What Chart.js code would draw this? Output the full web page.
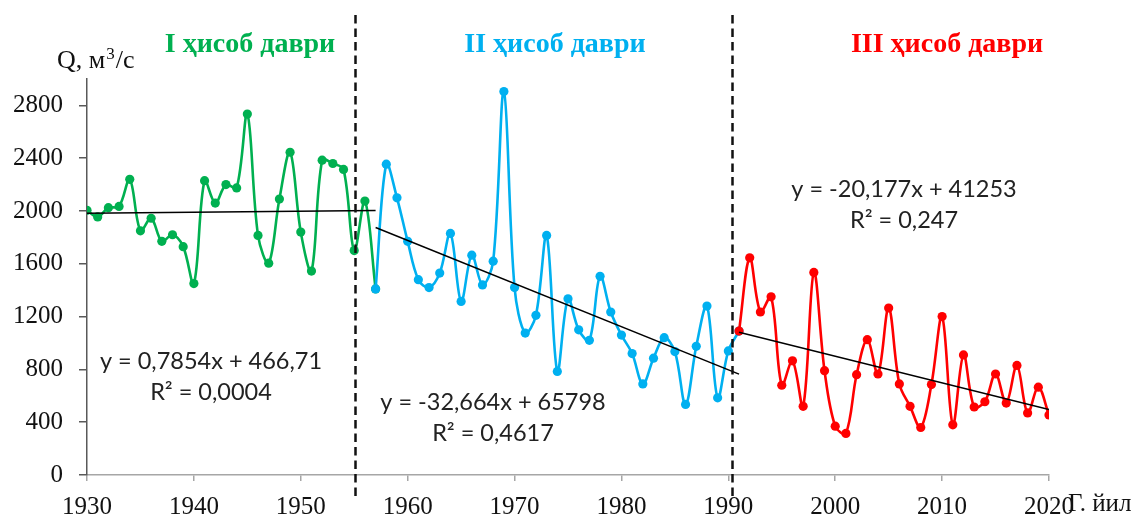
<!DOCTYPE html>
<html>
<head>
<meta charset="utf-8">
<script src="https://cdn.jsdelivr.net/npm/chart.js@4.4.1/dist/chart.umd.min.js"></script>
<style>
  html, body { margin: 0; padding: 0; background: #fff; }
</style>
</head>
<body>
<canvas id="chart" width="1144" height="515"></canvas>
<script>
const years = [
    1930, 1931, 1932, 1933, 1934, 1935, 1936, 1937, 1938, 1939,
    1940, 1941, 1942, 1943, 1944, 1945, 1946, 1947, 1948, 1949,
    1950, 1951, 1952, 1953, 1954, 1955, 1956, 1957, 1958, 1959,
    1960, 1961, 1962, 1963, 1964, 1965, 1966, 1967, 1968, 1969,
    1970, 1971, 1972, 1973, 1974, 1975, 1976, 1977, 1978, 1979,
    1980, 1981, 1982, 1983, 1984, 1985, 1986, 1987, 1988, 1989,
    1990, 1991, 1992, 1993, 1994, 1995, 1996, 1997, 1998, 1999,
    2000, 2001, 2002, 2003, 2004, 2005, 2006, 2007, 2008, 2009,
    2010, 2011, 2012, 2013, 2014, 2015, 2016, 2017, 2018, 2019,
    2020,
];
const flow = [
    2005, 1955, 2025, 2035, 2240, 1850, 1945, 1770, 1820, 1730,
    1450, 2230, 2060, 2200, 2175, 2735, 1815, 1605, 2090, 2445,
    1840, 1545, 2385, 2360, 2315, 1700, 2075, 1410, 2355, 2100,
    1770, 1480, 1420, 1530, 1830, 1315, 1665, 1440, 1620, 2905,
    1420, 1075, 1210, 1815, 785, 1335, 1100, 1020, 1505, 1235,
    1060, 920, 690, 885, 1040, 935, 535, 975, 1280, 585,
    940, 1090, 1645, 1235, 1350, 680, 865, 520, 1535, 790,
    370, 315, 760, 1025, 765, 1265, 690, 520, 360, 685,
    1200, 380, 910, 515, 555, 765, 545, 830, 470, 665,
    455,
];

// Three calculation periods
const periodNames = ['I ҳисоб даври', 'II ҳисоб даври', 'III ҳисоб даври'];
const periodStart = [1930, 1957, 1991];
const periodEnd = [1957, 1991, 2020];
const periodColors = ['#00B050', '#00B0F0', '#FF0000'];

// Linear trend lines (end points) and their labels
const trendYears = [[1930, 1957], [1957, 1991], [1991, 2020]];
const trendValues = [[1983, 2004], [1875, 764], [1081, 496]];
const trendEquations = ['y = 0,7854x + 466,71', 'y = -32,664x + 65798', 'y = -20,177x + 41253'];
const trendR2 = ['R² = 0,0004', 'R² = 0,4617', 'R² = 0,247'];

// Axis ticks
const yTickValues = [0, 400, 800, 1200, 1600, 2000, 2400, 2800];

// Dashed separators between periods (years)
const periodBounds = [1955.1, 1990.3];

const SERIF = '"Liberation Serif", "Times New Roman", serif';
const SANS = 'Lato, "Liberation Sans", sans-serif';

const datasets = [];
periodNames.forEach((name, p) => {
    const pts = [];
    years.forEach((yr, i) => {
        if (yr >= periodStart[p] && yr <= periodEnd[p]) pts.push({ x: yr, y: flow[i] });
    });
    datasets.push({
        label: name,
        data: pts,
        borderColor: periodColors[p],
        backgroundColor: periodColors[p],
        pointBackgroundColor: periodColors[p],
        pointBorderColor: periodColors[p],
        pointBorderWidth: 0,
        pointRadius: 4.6,
        borderWidth: 2.6,
        tension: 0.35,
        order: 3 - p,
    });
});
trendYears.forEach((ty, p) => {
    datasets.push({
        label: 'trend ' + (p + 1),
        data: ty.map((x, k) => ({ x, y: trendValues[p][k] })),
        borderColor: '#000',
        borderWidth: 1.5,
        pointRadius: 0,
        tension: 0,
        order: 0,
    });
});

// Annotation text positions (pixels)
const titlePos = [[250, 52], [555, 52], [947, 52]];
const eqPos = [[211, 369], [493, 410], [904, 197]];

const overlay = {
    id: 'overlay',
    afterDatasetsDraw(chart) {
        const ctx = chart.ctx;
        const xs = chart.scales.x;
        ctx.save();
        ctx.strokeStyle = '#111';
        ctx.lineWidth = 2.5;
        ctx.setLineDash([8.5, 5]);
        periodBounds.forEach(b => {
            const px = Math.round(xs.getPixelForValue(b)) + 0.5;
            ctx.beginPath();
            ctx.moveTo(px, 15);
            ctx.lineTo(px, 497);
            ctx.stroke();
        });
        ctx.restore();
    },
    afterDraw(chart) {
        const ctx = chart.ctx;
        ctx.save();
        ctx.textBaseline = 'alphabetic';

        // Period titles
        ctx.textAlign = 'center';
        ctx.font = 'bold 28px ' + SERIF;
        periodNames.forEach((n, p) => {
            ctx.fillStyle = periodColors[p];
            ctx.fillText(n, titlePos[p][0], titlePos[p][1]);
        });

        // Trend equations
        ctx.fillStyle = '#222';
        ctx.font = '23.5px ' + SANS;
        trendEquations.forEach((eq, p) => {
            ctx.fillText(eq, eqPos[p][0], eqPos[p][1]);
            ctx.fillText(trendR2[p], eqPos[p][0], eqPos[p][1] + 31);
        });

        // Axis titles
        ctx.fillStyle = '#111';
        ctx.textAlign = 'left';
        let x = 57;
        ctx.font = '26px ' + SERIF;
        ctx.fillText('Q, м', x, 68);
        x += ctx.measureText('Q, м').width + 1;
        ctx.font = '17px ' + SERIF;
        ctx.fillText('3', x, 59);
        x += ctx.measureText('3').width + 1;
        ctx.font = '26px ' + SERIF;
        ctx.fillText('/с', x, 68);

        ctx.font = '25px ' + SERIF;
        ctx.fillText('Г. йил', 1068, 511);
        ctx.restore();
    },
};

new Chart(document.getElementById('chart').getContext('2d'), {
    type: 'line',
    data: { datasets },
    options: {
        responsive: false,
        animation: false,
        layout: { padding: { left: 0, top: 79, right: 95, bottom: 0 } },
        plugins: {
            legend: { display: false },
            tooltip: { enabled: false },
        },
        scales: {
            x: {
                type: 'linear',
                min: 1930,
                max: 2020,
                afterFit: s => { s.height = 40; },
                ticks: {
                    stepSize: 10,
                    padding: 11,
                    color: '#111',
                    font: { family: SERIF, size: 25 },
                    callback: v => String(v),
                },
                grid: { drawOnChartArea: false, drawTicks: true, tickLength: 6, color: '#a6a6a6', lineWidth: 1.5 },
                border: { display: true, color: '#a6a6a6', width: 1.5 },
            },
            y: {
                min: 0,
                max: 3000,
                afterFit: s => { s.width = 87; },
                afterBuildTicks: s => { s.ticks = yTickValues.map(v => ({ value: v })); },
                ticks: {
                    padding: 16,
                    color: '#111',
                    font: { family: SERIF, size: 25 },
                    callback: v => String(v),
                },
                grid: { drawOnChartArea: false, drawTicks: true, tickLength: 8, color: '#595959', lineWidth: 1.5 },
                border: { display: true, color: '#595959', width: 1.5 },
            },
        },
    },
    plugins: [overlay],
});
</script>
</body>
</html>
